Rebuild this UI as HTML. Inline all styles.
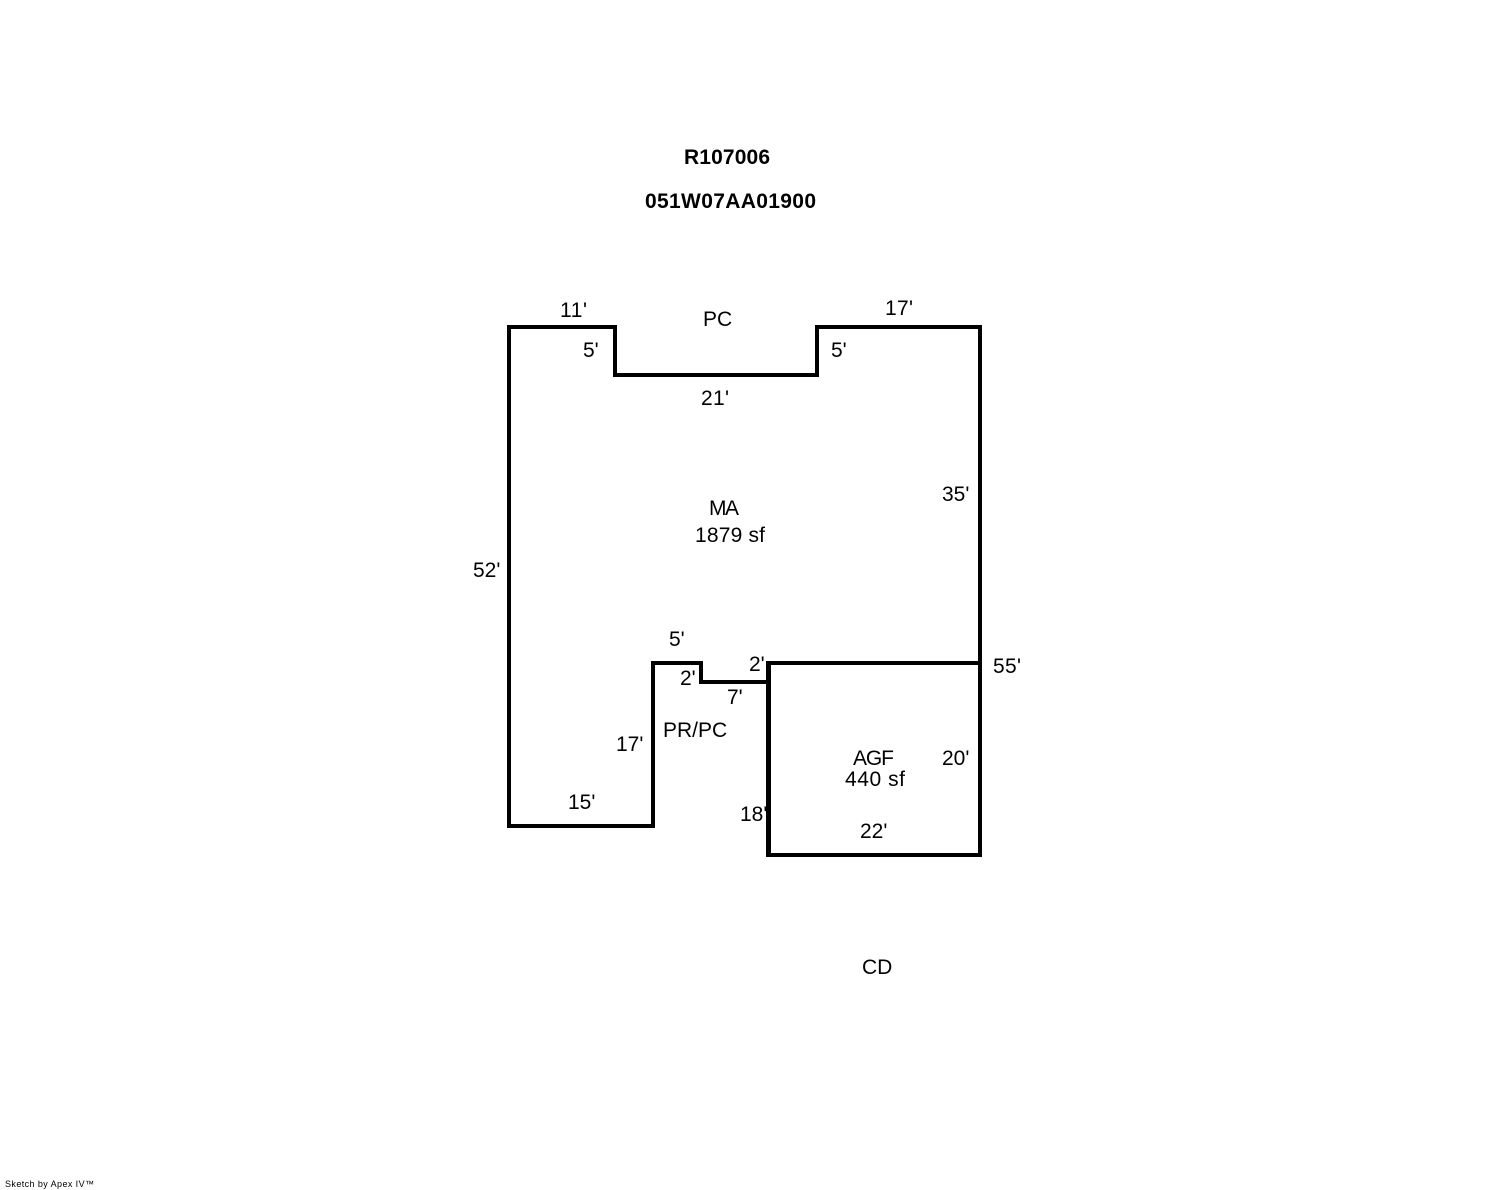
<!DOCTYPE html>
<html>
<head>
<meta charset="utf-8">
<style>
html,body{margin:0;padding:0;background:#fff;width:1488px;height:1190px;overflow:hidden}
svg{display:block}
text{font-family:"Liberation Sans",Arial,sans-serif;font-size:21px;fill:#000}
.b{font-weight:bold}
</style>
</head>
<body>
<svg width="1488" height="1190" viewBox="0 0 1488 1190" xmlns="http://www.w3.org/2000/svg">
<g fill="none" stroke="#000" stroke-width="4" stroke-linejoin="miter" stroke-linecap="square" shape-rendering="crispEdges">
<path d="M509 327H615V375H817V327H980V855H769V682H701V663H653V826H509Z"/>
<path d="M769 663H980"/>
</g>
<rect x="766" y="661" width="5" height="196" fill="#000" shape-rendering="crispEdges"/>
<text class="b" x="684" y="164" textLength="86" lengthAdjust="spacing">R107006</text>
<text class="b" x="645" y="208" textLength="171" lengthAdjust="spacing">051W07AA01900</text>
<text x="560" y="317" textLength="27" lengthAdjust="spacing">11'</text>
<text x="703" y="326">PC</text>
<text x="885" y="315" textLength="28" lengthAdjust="spacing">17'</text>
<text x="583" y="357">5'</text>
<text x="831" y="357">5'</text>
<text x="701" y="405" textLength="28" lengthAdjust="spacing">21'</text>
<text x="942" y="501">35'</text>
<text x="709" y="515" textLength="30" lengthAdjust="spacing">MA</text>
<text x="695" y="542" textLength="70" lengthAdjust="spacing">1879 sf</text>
<text x="473" y="577">52'</text>
<text x="669" y="646">5'</text>
<text x="749" y="671">2'</text>
<text x="993" y="673" textLength="28" lengthAdjust="spacing">55'</text>
<text x="680" y="685">2'</text>
<text x="727" y="704">7'</text>
<text x="663" y="737">PR/PC</text>
<text x="616" y="751">17'</text>
<text x="853" y="765" textLength="41" lengthAdjust="spacing">AGF</text>
<text x="942" y="765">20'</text>
<text x="845" y="786" textLength="60" lengthAdjust="spacing">440 sf</text>
<text x="568" y="809">15'</text>
<text x="740" y="821">18'</text>
<text x="860" y="838">22'</text>
<text x="862" y="974">CD</text>
<text x="5" y="1187" style="font-size:9px" textLength="89" lengthAdjust="spacing">Sketch by Apex IV™</text>
</svg>
</body>
</html>
